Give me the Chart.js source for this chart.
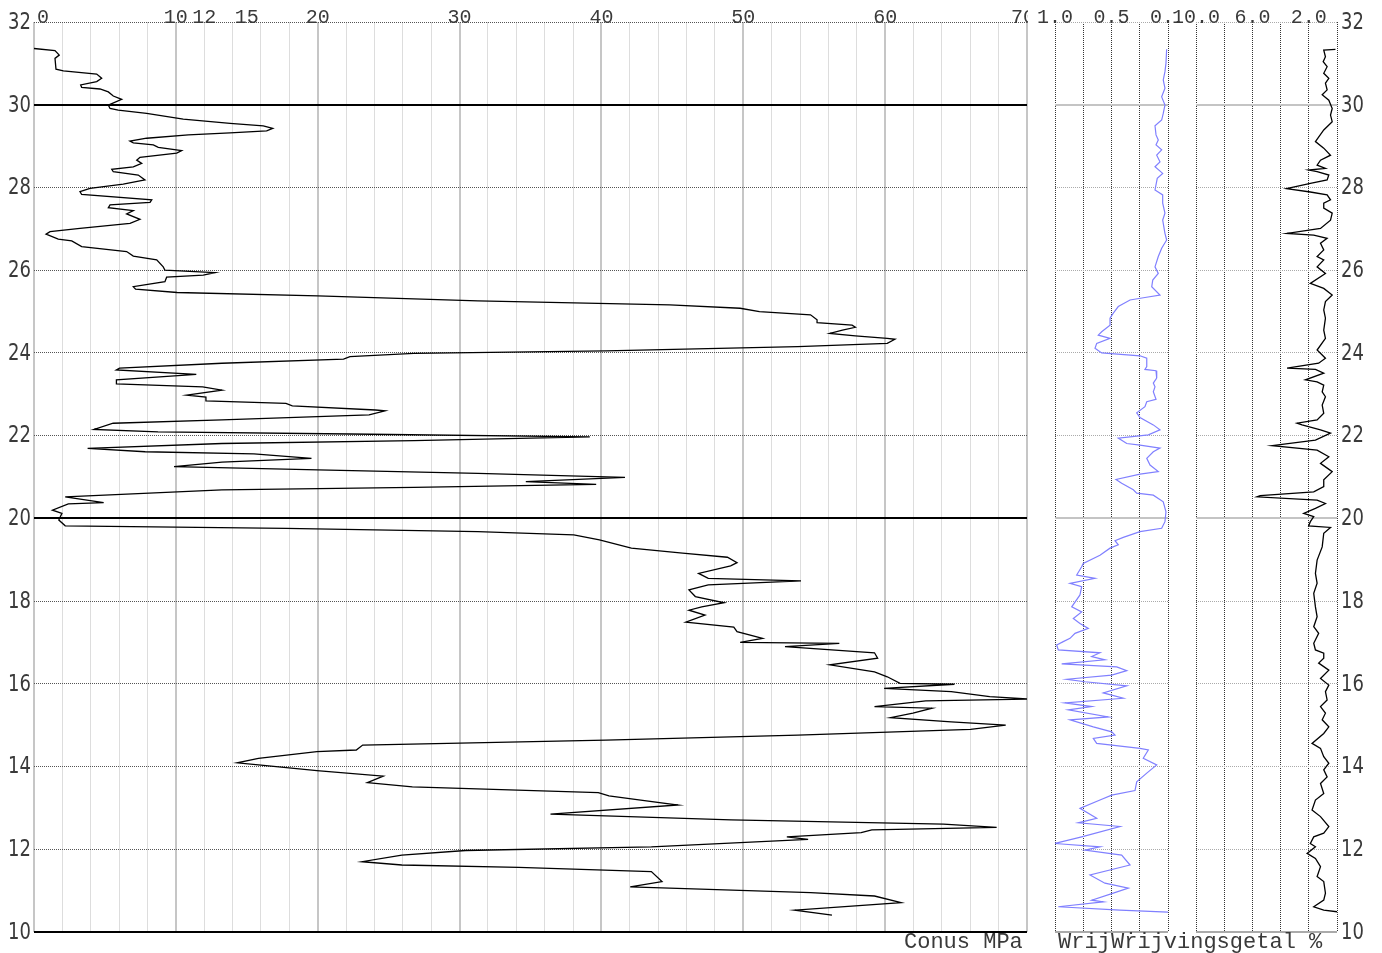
<!DOCTYPE html>
<html>
<head>
<meta charset="utf-8">
<script src="https://cdn.jsdelivr.net/npm/chart.js@4.4.1/dist/chart.umd.min.js"></script>
<style>
  html, body { margin: 0; padding: 0; background: #fff; }
  #wrap { position: relative; width: 1382px; height: 953px; overflow: hidden; }
  canvas { position: absolute; top: 0; }
</style>
</head>
<body>
<div id="wrap">
  <canvas id="conus" width="1028" height="953" style="left:0px"></canvas>
  <canvas id="wrij" width="150" height="953" style="left:1030px"></canvas>
  <canvas id="getal" width="282" height="953" style="left:1100px"></canvas>
</div>
<script>
// Diepte-as (gedeeld door de drie panelen)
const diepteTicks = [32, 30, 28, 26, 24, 22, 20, 18, 16, 14, 12, 10];

// Labels bovenaan elk paneel
const conusTicks = [0, 10, 12, 15, 20, 30, 40, 50, 60, 70];
const wrijTicks = [1.0, 0.5, 0.0];
const getalTicks = [10, 6, 2];

// Conusweerstand (MPa) en bijbehorende diepte
const conusWaarde = [0.0,1.48,1.78,1.48,1.55,2.07,4.42,4.77,4.42,3.29,3.36,4.65,5.24,5.59,6.18,5.24,5.36,5.94,7.94,10.52,
  13.82,16.16,16.83,16.40,13.82,10.88,7.94,6.77,7.00,8.41,8.76,10.41,10.06,7.47,7.24,7.59,7.00,5.48,5.59,7.35,
  7.82,6.29,3.95,3.24,3.36,8.30,8.18,5.36,5.24,7.00,6.53,7.47,6.77,3.24,1.13,0.85,1.71,2.66,3.36,6.53,
  7.00,8.65,9.11,9.23,12.76,11.93,9.35,9.23,7.00,7.16,10.09,20.01,31.29,44.82,49.78,51.14,54.74,55.20,55.20,57.67,
  57.90,56.99,56.10,57.90,60.15,60.69,60.15,53.84,40.31,26.78,22.27,21.82,13.25,6.03,5.81,11.44,5.81,5.81,11.89,13.25,
  10.76,12.12,12.12,17.76,18.21,24.07,24.75,23.62,13.25,5.58,4.23,8.74,22.27,39.18,26.78,13.25,3.78,7.84,15.50,19.56,
  13.25,9.87,20.01,31.29,41.66,34.67,39.63,26.78,13.25,2.20,4.91,2.42,1.30,1.97,1.75,2.20,17.76,31.29,38.05,39.86,
  42.11,45.72,48.88,49.56,49.11,46.85,47.53,54.07,47.53,46.17,46.62,48.65,47.07,46.17,47.30,45.95,49.33,49.56,51.36,49.78,
  56.77,52.94,59.25,59.47,56.10,59.25,60.15,61.05,64.89,59.93,64.66,67.37,70.2,62.86,59.25,63.31,61.96,60.38,64.66,68.50,
  66.02,53.84,40.31,23.17,22.72,19.94,15.82,14.32,15.82,19.94,24.62,23.50,26.67,39.78,40.53,42.77,45.40,36.41,49.14,64.11,
  67.86,59.06,58.31,53.07,54.57,43.52,30.42,25.93,23.12,25.93,34.16,43.52,44.27,42.03,54.75,59.25,61.12,53.63,56.25];
const conusDiepte = [31.36,31.31,31.20,31.12,30.86,30.82,30.74,30.64,30.56,30.48,30.42,30.38,30.31,30.21,30.13,29.99,29.91,29.87,29.79,29.65,
  29.55,29.49,29.43,29.37,29.32,29.27,29.19,29.12,29.08,29.03,28.97,28.89,28.83,28.73,28.66,28.58,28.50,28.44,28.38,28.30,
  28.18,28.08,27.98,27.90,27.83,27.70,27.64,27.58,27.51,27.44,27.36,27.23,27.13,27.01,26.93,26.87,26.75,26.71,26.57,26.45,
  26.34,26.25,26.08,26.00,25.94,25.88,25.83,25.72,25.60,25.54,25.46,25.38,25.26,25.16,25.08,25.00,24.92,24.80,24.73,24.67,
  24.62,24.55,24.47,24.41,24.35,24.33,24.23,24.15,24.05,23.99,23.91,23.85,23.75,23.63,23.59,23.48,23.35,23.25,23.18,23.10,
  22.98,22.93,22.84,22.78,22.72,22.62,22.60,22.50,22.38,22.30,22.15,22.09,22.04,21.97,21.88,21.81,21.69,21.61,21.56,21.45,
  21.36,21.25,21.17,21.09,20.99,20.89,20.82,20.75,20.69,20.52,20.38,20.35,20.20,20.12,19.96,19.82,19.76,19.68,19.60,19.48,
  19.28,19.16,19.06,18.93,18.85,18.67,18.55,18.49,18.39,18.27,18.11,17.96,17.86,17.78,17.66,17.49,17.37,17.26,17.10,17.00,
  16.98,16.90,16.75,16.62,16.46,16.29,16.17,16.01,15.99,15.89,15.81,15.69,15.63,15.59,15.45,15.41,15.29,15.18,15.08,15.00,
  14.90,14.76,14.64,14.52,14.40,14.36,14.20,14.09,14.04,13.90,13.77,13.61,13.51,13.37,13.29,13.19,13.07,12.85,12.71,12.61,
  12.53,12.47,12.40,12.30,12.24,12.06,11.97,11.86,11.70,11.62,11.56,11.46,11.22,11.09,10.95,10.87,10.71,10.53,10.41];

// Wrijvingsweerstand (MPa) en diepte
const wrijWaarde = [0.012,0.018,0.027,0.042,0.027,0.056,0.027,0.042,0.056,0.115,0.106,0.086,0.106,0.056,0.100,0.071,0.115,0.047,0.095,0.115,
  0.047,0.047,0.027,0.047,0.027,0.012,0.056,0.086,0.115,0.086,0.135,0.144,0.071,0.204,0.336,0.440,0.484,0.513,0.513,0.587,
  0.617,0.513,0.631,0.646,0.587,0.248,0.188,0.188,0.204,0.106,0.100,0.130,0.115,0.130,0.106,0.188,0.204,0.277,0.248,0.130,
  0.071,0.174,0.440,0.365,0.248,0.071,0.130,0.188,0.159,0.086,0.248,0.460,0.410,0.307,0.277,0.130,0.042,0.018,0.027,0.056,
  0.248,0.396,0.469,0.440,0.513,0.602,0.750,0.764,0.808,0.646,0.867,0.764,0.779,0.852,0.764,0.838,0.779,0.705,0.823,0.867,
  0.927,0.985,0.971,0.602,0.675,0.558,0.941,0.454,0.365,0.498,0.896,0.735,0.365,0.573,0.396,0.912,0.675,0.882,0.528,0.867,
  0.661,0.498,0.469,0.661,0.631,0.248,0.174,0.219,0.100,0.188,0.277,0.292,0.498,0.602,0.779,0.631,0.794,0.425,0.764,1.000,
  0.602,0.735,0.410,0.336,0.690,0.558,0.351,0.484,0.675,0.573,0.971,0.425,0.000];
const wrijDiepte = [31.34,31.00,30.80,30.60,30.40,30.19,29.99,29.79,29.63,29.49,29.27,29.15,29.03,28.91,28.78,28.62,28.50,28.34,28.22,27.94,
  27.82,27.62,27.38,27.21,26.89,26.73,26.53,26.33,26.08,25.92,25.76,25.60,25.40,25.34,25.28,25.12,24.96,24.84,24.67,24.51,
  24.43,24.35,24.23,24.11,24.00,23.93,23.87,23.67,23.60,23.57,23.39,23.27,23.18,23.06,22.88,22.82,22.70,22.55,22.44,22.26,
  22.14,22.02,21.94,21.81,21.77,21.70,21.61,21.45,21.29,21.13,21.07,20.94,20.85,20.69,20.61,20.56,20.40,20.16,19.92,19.76,
  19.68,19.54,19.46,19.36,19.28,19.11,18.91,18.83,18.63,18.55,18.43,18.35,18.15,17.86,17.74,17.58,17.46,17.34,17.22,17.10,
  17.02,16.94,16.82,16.75,16.66,16.58,16.48,16.41,16.32,16.21,16.11,16.05,15.95,15.78,15.65,15.54,15.45,15.37,15.20,15.13,
  14.96,14.84,14.76,14.68,14.56,14.44,14.40,14.20,14.04,13.84,13.63,13.42,13.31,13.19,12.99,12.75,12.64,12.55,12.30,12.14,
  12.06,11.98,11.86,11.62,11.38,11.18,11.06,10.94,10.77,10.73,10.61,10.53,10.48];

// Wrijvingsgetal (%) en diepte
const getalWaarde = [0.11,0.94,0.82,0.98,0.70,0.94,0.58,0.82,0.70,1.05,0.58,0.34,0.46,0.34,0.94,1.53,0.94,0.46,1.17,1.41,
  0.82,2.01,1.41,0.58,0.70,1.89,3.58,1.89,0.70,0.46,0.94,0.94,0.34,0.46,1.17,3.54,1.65,0.70,1.17,0.94,
  1.41,0.94,1.41,0.82,1.89,0.94,0.34,0.82,0.94,0.82,0.94,0.82,1.41,0.82,1.30,3.54,1.53,0.94,2.24,1.41,
  0.94,1.05,0.82,1.05,0.94,1.41,2.83,2.48,1.17,0.46,1.53,4.60,1.41,0.58,1.17,0.34,0.94,0.94,1.65,5.45,
  5.68,1.41,0.82,1.53,2.36,1.65,1.89,2.01,0.46,0.94,1.05,1.41,1.53,1.41,1.65,1.53,1.41,1.65,1.30,1.65,
  1.53,0.94,0.94,1.30,0.58,1.17,0.58,0.82,0.70,1.17,0.82,1.05,0.58,0.94,1.77,1.17,0.94,0.58,0.94,0.70,
  1.17,0.94,1.53,1.77,1.17,0.58,0.94,1.65,1.89,1.53,2.12,1.53,1.17,1.41,0.94,0.82,0.94,1.65,0.94,0.00];
const getalDiepte = [31.34,31.32,31.16,31.04,30.92,30.76,30.64,30.52,30.36,30.24,30.11,29.91,29.75,29.59,29.39,29.11,28.95,28.78,28.66,28.54,
  28.46,28.42,28.38,28.30,28.18,28.10,27.97,27.89,27.82,27.70,27.62,27.50,27.38,27.21,27.01,26.89,26.85,26.77,26.65,26.49,
  26.33,26.25,26.08,25.92,25.68,25.56,25.40,25.24,25.04,24.84,24.55,24.35,24.07,23.87,23.75,23.63,23.60,23.51,23.35,23.30,
  23.22,23.06,22.94,22.74,22.54,22.38,22.30,22.26,22.14,22.06,21.89,21.76,21.65,21.49,21.33,21.13,20.93,20.77,20.64,20.55,
  20.52,20.44,20.36,20.24,20.12,20.04,19.92,19.82,19.78,19.64,19.31,18.99,18.67,18.43,18.19,17.86,17.62,17.38,17.22,16.98,
  16.82,16.74,16.62,16.50,16.33,16.13,15.97,15.81,15.61,15.45,15.29,15.13,14.96,14.80,14.56,14.44,14.24,14.08,13.92,13.75,
  13.59,13.35,13.19,12.95,12.79,12.55,12.39,12.30,12.14,12.06,11.90,11.78,11.58,11.34,11.22,10.94,10.77,10.61,10.53,10.49];

function punten(xs, ys) {
  return xs.map((x, i) => ({ x: x, y: ys[i] }));
}

// Lettertypen
const fontBoven = '20px "Liberation Mono"';
const fontOnder = '22px "Liberation Mono"';
const fontDiepte = '18px "DejaVu Sans"';
const tekstKleur = '#3a3a3a';

// Plugin: vaste lijnen, labels boven/onder en diepte-labels
function paneelPlugin(p) {
  return {
    id: 'paneel',
    beforeDatasetsDraw(chart) {
      const { ctx, chartArea: a, scales } = chart;
      ctx.save();
      p.vasteLijnen.forEach(l => {
        const py = Math.round(scales.y.getPixelForValue(l.waarde));
        ctx.strokeStyle = l.kleur;
        ctx.lineWidth = l.dikte;
        ctx.beginPath();
        ctx.moveTo(a.left, py);
        ctx.lineTo(a.right, py);
        ctx.stroke();
      });
      ctx.restore();
    },
    afterDraw(chart) {
      const { ctx, chartArea: a, scales } = chart;
      ctx.save();
      // labels bovenaan
      ctx.font = fontBoven;
      ctx.textBaseline = 'alphabetic';
      p.boven.forEach((v, i) => {
        const t = p.formaat(v);
        const w = ctx.measureText(t).width;
        let px = scales.x.getPixelForValue(v) - w / 2;
        if (p.eersteLinks && i === 0) px = a.left + 3;
        if (p.laatsteSchuif && i === p.boven.length - 1) px += p.laatsteSchuif;
        if (p.wit) {
          ctx.fillStyle = '#fff';
          ctx.fillRect(px, 2, w, 19);
        }
        ctx.fillStyle = tekstKleur;
        ctx.fillText(t, px, 23);
      });
      // titel onderaan
      ctx.font = fontOnder;
      const tw = ctx.measureText(p.titel).width;
      const tx = p.titelX - p.offset;
      if (p.wit) {
        ctx.fillStyle = '#fff';
        ctx.fillRect(tx, 934, tw, 19);
      }
      ctx.fillStyle = tekstKleur;
      ctx.fillText(p.titel, tx, 948);
      // diepte-labels
      if (p.diepteZijde) {
        ctx.font = fontDiepte;
        ctx.textBaseline = 'middle';
        ctx.textAlign = p.diepteZijde === 'links' ? 'right' : 'left';
        const dx = p.diepteZijde === 'links' ? a.left - 3 : a.right + 4;
        diepteTicks.forEach(d => {
          const py = scales.y.getPixelForValue(d);
          ctx.save();
          ctx.translate(dx, py + 1);
          ctx.scale(1, 1.25);
          ctx.fillText(String(d), 0, 0);
          ctx.restore();
        });
      }
      ctx.restore();
    }
  };
}

function diepteAs(kleur) {
  return {
    type: 'linear', min: 10, max: 32,
    ticks: { display: false, stepSize: 2, autoSkip: false },
    grid: { color: kleur, lineWidth: 1, drawTicks: false },
    border: { display: false, dash: [1, 1] },
    afterFit: s => { s.width = 0; }
  };
}

function maakGrafiek(id, dataset, xAs, yAs, padding, plugin) {
  return new Chart(document.getElementById(id), {
    type: 'scatter',
    data: { datasets: [dataset] },
    options: {
      responsive: false,
      animation: false,
      devicePixelRatio: 1,
      events: [],
      layout: { padding: padding },
      plugins: { legend: { display: false }, tooltip: { enabled: false } },
      scales: { x: xAs, y: yAs }
    },
    plugins: [plugin]
  });
}

// Paneel 1: conusweerstand
maakGrafiek('conus', {
  data: punten(conusWaarde, conusDiepte),
  showLine: true, borderColor: '#000', borderWidth: 1.3, pointRadius: 0, tension: 0
}, {
  type: 'linear', min: 0, max: 70, position: 'top',
  ticks: { display: false, stepSize: 2, autoSkip: false },
  grid: {
    color: c => c.tick.value % 10 === 0 ? '#c6c6c6' : '#dddddd',
    lineWidth: c => c.tick.value % 10 === 0 ? 2 : 1,
    drawTicks: false
  },
  border: { display: false },
  afterFit: s => { s.height = 0; }
}, diepteAs('#555'), { left: 34, right: 1, top: 22, bottom: 21 }, paneelPlugin({
  offset: 0,
  boven: conusTicks, formaat: v => String(v), eersteLinks: true, laatsteSchuif: -4, wit: false,
  titel: 'Conus MPa', titelX: 904,
  diepteZijde: 'links',
  vasteLijnen: [
    { waarde: 30, kleur: '#000', dikte: 2 },
    { waarde: 20, kleur: '#000', dikte: 2 },
    { waarde: 10, kleur: '#000', dikte: 2 }
  ]
}));

// Paneel 2: wrijvingsweerstand
maakGrafiek('wrij', {
  data: punten(wrijWaarde, wrijDiepte),
  showLine: true, borderColor: '#8080ff', borderWidth: 1.2, pointRadius: 0, tension: 0
}, {
  type: 'linear', min: 0, max: 1, reverse: true, position: 'top',
  ticks: { display: false, stepSize: 0.25, autoSkip: false },
  grid: { color: '#333', lineWidth: 1, drawTicks: false },
  border: { display: false, dash: [1, 1] },
  afterFit: s => { s.height = 0; }
}, diepteAs('#aaa'), { left: 25, right: 12, top: 22, bottom: 21 }, paneelPlugin({
  offset: 1030,
  boven: wrijTicks, formaat: v => v.toFixed(1), eersteLinks: false, wit: false,
  titel: 'Wrijvingsweerstand MPa', titelX: 1058,
  diepteZijde: null,
  vasteLijnen: [
    { waarde: 30, kleur: '#c4c4c4', dikte: 2 },
    { waarde: 20, kleur: '#c4c4c4', dikte: 2 },
    { waarde: 10, kleur: '#aaa', dikte: 2 }
  ]
}));

// Paneel 3: wrijvingsgetal
maakGrafiek('getal', {
  data: punten(getalWaarde, getalDiepte),
  showLine: true, borderColor: '#000', borderWidth: 1.3, pointRadius: 0, tension: 0
}, {
  type: 'linear', min: 0, max: 10, reverse: true, position: 'top',
  ticks: { display: false, stepSize: 2, autoSkip: false },
  grid: { color: '#333', lineWidth: 1, drawTicks: false },
  border: { display: false, dash: [1, 1] },
  afterFit: s => { s.height = 0; }
}, diepteAs('#aaa'), { left: 96, right: 45, top: 22, bottom: 21 }, paneelPlugin({
  offset: 1100,
  boven: getalTicks, formaat: v => v.toFixed(1), eersteLinks: false, wit: true,
  titel: 'Wrijvingsgetal %', titelX: 1111,
  diepteZijde: 'rechts',
  vasteLijnen: [
    { waarde: 30, kleur: '#c4c4c4', dikte: 2 },
    { waarde: 20, kleur: '#c4c4c4', dikte: 2 },
    { waarde: 10, kleur: '#aaa', dikte: 2 }
  ]
}));
</script>
</body>
</html>
